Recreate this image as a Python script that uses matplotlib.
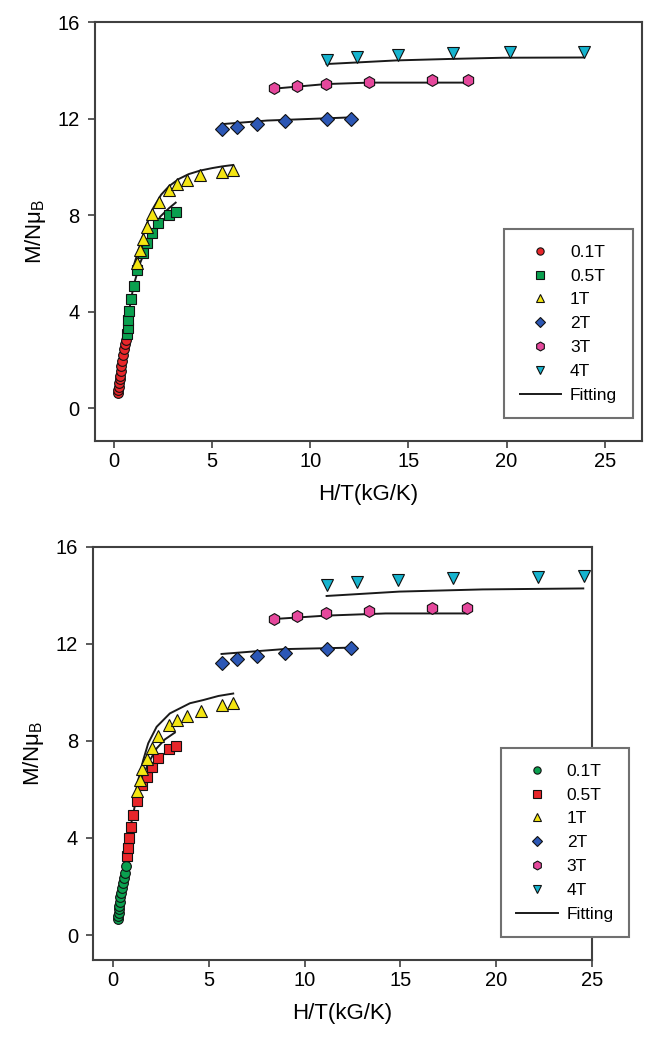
"""
Reduced magnetization M/N muB vs H/T, two panels with fits.
"""
import matplotlib
matplotlib.use('Agg')
import matplotlib.pyplot as plt
from matplotlib.lines import Line2D

plt.rcParams['font.family'] = ['Liberation Sans', 'DejaVu Sans']
plt.rcParams['mathtext.fontset'] = 'custom'
plt.rcParams['mathtext.rm'] = 'Liberation Sans'

# ---------------- top panel data ----------------
top_01_x = [0.20, 0.22, 0.24, 0.26, 0.28, 0.30, 0.33, 0.36, 0.40, 0.45, 0.50, 0.56, 0.62]
top_01_y = [0.62, 0.75, 0.90, 1.05, 1.20, 1.35, 1.55, 1.75, 1.98, 2.20, 2.45, 2.65, 2.85]
top_05_x = [0.65, 0.70, 0.73, 0.78, 0.87, 1.02, 1.19, 1.46, 1.70, 1.95, 2.26, 2.80, 3.14]
top_05_y = [3.07, 3.31, 3.68, 4.04, 4.55, 5.06, 5.73, 6.44, 6.83, 7.25, 7.66, 8.01, 8.15]
top_1_x = [1.16, 1.32, 1.49, 1.66, 1.95, 2.28, 2.82, 3.19, 3.73, 4.38, 5.51, 6.07]
top_1_y = [6.03, 6.56, 7.03, 7.52, 8.04, 8.56, 9.05, 9.29, 9.46, 9.67, 9.80, 9.86]
top_2_x = [5.48, 6.28, 7.30, 8.72, 10.83, 12.05]
top_2_y = [11.56, 11.67, 11.77, 11.88, 11.99, 11.99]
top_3_x = [8.15, 9.30, 10.79, 13.00, 16.18, 18.01]
top_3_y = [13.27, 13.35, 13.44, 13.51, 13.58, 13.60]
top_4_x = [10.83, 12.39, 14.45, 17.25, 20.17, 23.95]
top_4_y = [14.44, 14.55, 14.65, 14.70, 14.76, 14.76]

# fitted curves (top)
top_fit01_x = [0.20, 0.30, 0.40, 0.50, 0.62]
top_fit01_y = [0.62, 1.35, 1.98, 2.45, 2.85]
top_fit05_x = [0.60, 0.80, 1.00, 1.32, 1.66, 2.08, 2.35, 2.80, 3.14]
top_fit05_y = [3.00, 4.20, 5.10, 6.00, 6.69, 7.39, 7.94, 8.29, 8.52]
top_fit1_x = [1.00, 1.30, 1.60, 2.00, 2.40, 2.80, 3.30, 3.80, 4.40, 5.00, 5.50, 6.07]
top_fit1_y = [5.90, 6.70, 7.50, 8.30, 8.85, 9.20, 9.50, 9.70, 9.85, 9.95, 10.02, 10.08]
top_fit2_x = [5.48, 7.80, 12.05]
top_fit2_y = [11.77, 11.92, 12.05]
top_fit3_x = [8.15, 10.79, 13.00, 18.01]
top_fit3_y = [13.24, 13.43, 13.49, 13.49]
top_fit4_x = [10.83, 14.40, 17.10, 19.80, 23.95]
top_fit4_y = [14.26, 14.41, 14.47, 14.52, 14.53]

# ---------------- bottom panel data ----------------
bot_01_x = [0.24, 0.26, 0.28, 0.30, 0.32, 0.34, 0.37, 0.40, 0.44, 0.49, 0.54, 0.60, 0.66]
bot_01_y = [0.66, 0.78, 0.92, 1.06, 1.20, 1.35, 1.55, 1.75, 1.95, 2.15, 2.35, 2.55, 2.85]
bot_05_x = [0.70, 0.75, 0.82, 0.91, 1.05, 1.25, 1.53, 1.78, 2.01, 2.35, 2.91, 3.26]
bot_05_y = [3.26, 3.57, 3.98, 4.43, 4.93, 5.53, 6.18, 6.52, 6.94, 7.31, 7.65, 7.79]
bot_1_x = [1.22, 1.39, 1.52, 1.78, 2.04, 2.35, 2.91, 3.31, 3.83, 4.58, 5.66, 6.27]
bot_1_y = [5.95, 6.39, 6.83, 7.24, 7.72, 8.20, 8.65, 8.86, 9.03, 9.25, 9.49, 9.57]
bot_2_x = [5.66, 6.48, 7.52, 8.97, 11.18, 12.40]
bot_2_y = [11.19, 11.36, 11.50, 11.61, 11.77, 11.81]
bot_3_x = [8.40, 9.58, 11.11, 13.38, 16.64, 18.46]
bot_3_y = [13.02, 13.14, 13.28, 13.36, 13.46, 13.49]
bot_4_x = [11.15, 12.75, 14.86, 17.73, 22.17, 24.61]
bot_4_y = [14.42, 14.53, 14.63, 14.72, 14.76, 14.80]

bot_fit01_x = [0.24, 0.34, 0.44, 0.54, 0.66]
bot_fit01_y = [0.66, 1.35, 1.95, 2.35, 2.85]
bot_fit05_x = [0.70, 0.90, 1.05, 1.22, 1.48, 1.83, 2.27, 2.70, 3.22]
bot_fit05_y = [3.30, 4.45, 5.00, 5.70, 6.39, 7.07, 7.69, 8.06, 8.34]
bot_fit1_x = [1.13, 1.31, 1.57, 1.83, 2.27, 2.96, 4.01, 4.70, 5.50, 6.27]
bot_fit1_y = [5.70, 6.39, 7.21, 7.90, 8.58, 9.13, 9.55, 9.68, 9.85, 9.95]
bot_fit2_x = [5.66, 8.90, 12.40]
bot_fit2_y = [11.58, 11.78, 11.84]
bot_fit3_x = [8.40, 11.11, 14.24, 18.46]
bot_fit3_y = [13.02, 13.16, 13.25, 13.25]
bot_fit4_x = [11.15, 14.95, 19.30, 24.56]
bot_fit4_y = [13.97, 14.15, 14.24, 14.28]

labels = ['0.1T', '0.5T', '1T', '2T', '3T', '4T']
markers = ['o', 's', '^', 'D', 'h', 'v']
sizes = [7.0, 7.0, 8.0, 7.2, 8.5, 8.5]
red, green = '#e8262a', '#0aa04f'
yellow, blue, pink, cyan = '#f4e511', '#2c57b5', '#e5489c', '#16b4cf'
top_colors = [red, green, yellow, blue, pink, cyan]
bot_colors = [green, red, yellow, blue, pink, cyan]

SPINE = '#404040'


def draw_panel(ax, series, fits, colors, xlim, ylim, legend_box):
    for (x, y), c, m, s in zip(series, colors, markers, sizes):
        ax.plot(x, y, linestyle='none', marker=m, markersize=s, markerfacecolor=c,
                markeredgecolor='#111111', markeredgewidth=0.8, zorder=3)
    for x, y in fits:
        ax.plot(x, y, color='#1a1a1a', linewidth=1.4, zorder=2)

    ax.set_xlim(*xlim)
    ax.set_ylim(*ylim)
    ax.set_xticks([0, 5, 10, 15, 20, 25])
    ax.set_yticks([0, 4, 8, 12, 16])
    ax.tick_params(direction='out', length=5, width=1.2, color=SPINE, labelsize=14.5)
    ax.tick_params(axis='x', pad=3)
    ax.tick_params(axis='y', pad=6)
    for sp in ax.spines.values():
        sp.set_color(SPINE)
        sp.set_linewidth(1.5)
    ax.set_xlabel('H/T(kG/K)', fontsize=16, labelpad=9)
    ax.set_ylabel('M/Nμ$_\\mathrm{B}$', fontsize=16, labelpad=7)

    handles = [Line2D([], [], linestyle='none', marker=m, markersize=s * 0.75,
                      markerfacecolor=c, markeredgecolor='#111111', markeredgewidth=0.8)
               for c, m, s in zip(colors, markers, sizes)]
    handles.append(Line2D([], [], color='#1a1a1a', linewidth=1.4))
    leg = ax.legend(handles, labels + ['Fitting'], loc='upper left',
                    bbox_to_anchor=legend_box, bbox_transform=ax.figure.transFigure,
                    fontsize=12.5, frameon=True, fancybox=False, framealpha=1,
                    edgecolor='#707070', handlelength=2.4, handletextpad=0.5,
                    labelspacing=0.5, borderpad=0.9, borderaxespad=0)
    leg.get_frame().set_linewidth(1.5)


W, H = 654, 1038
fig = plt.figure(figsize=(W / 100, H / 100), dpi=100)

ax1 = fig.add_axes([95 / W, 1 - 441 / H, (642 - 95) / W, (441 - 22) / H])
draw_panel(ax1,
           [(top_01_x, top_01_y), (top_05_x, top_05_y), (top_1_x, top_1_y),
            (top_2_x, top_2_y), (top_3_x, top_3_y), (top_4_x, top_4_y)],
           [(top_fit01_x, top_fit01_y), (top_fit05_x, top_fit05_y), (top_fit1_x, top_fit1_y),
            (top_fit2_x, top_fit2_y), (top_fit3_x, top_fit3_y), (top_fit4_x, top_fit4_y)],
           top_colors, (-0.97, 26.9), (-1.35, 16), (504 / W, 1 - 229 / H))

ax2 = fig.add_axes([93.3 / W, 1 - 960 / H, (591.7 - 93.3) / W, (960 - 546.7) / H])
draw_panel(ax2,
           [(bot_01_x, bot_01_y), (bot_05_x, bot_05_y), (bot_1_x, bot_1_y),
            (bot_2_x, bot_2_y), (bot_3_x, bot_3_y), (bot_4_x, bot_4_y)],
           [(bot_fit01_x, bot_fit01_y), (bot_fit05_x, bot_fit05_y), (bot_fit1_x, bot_fit1_y),
            (bot_fit2_x, bot_fit2_y), (bot_fit3_x, bot_fit3_y), (bot_fit4_x, bot_fit4_y)],
           bot_colors, (-1.04, 25), (-1.03, 16), (500.7 / W, 1 - 748 / H))

fig.savefig('out.png', dpi=100)
